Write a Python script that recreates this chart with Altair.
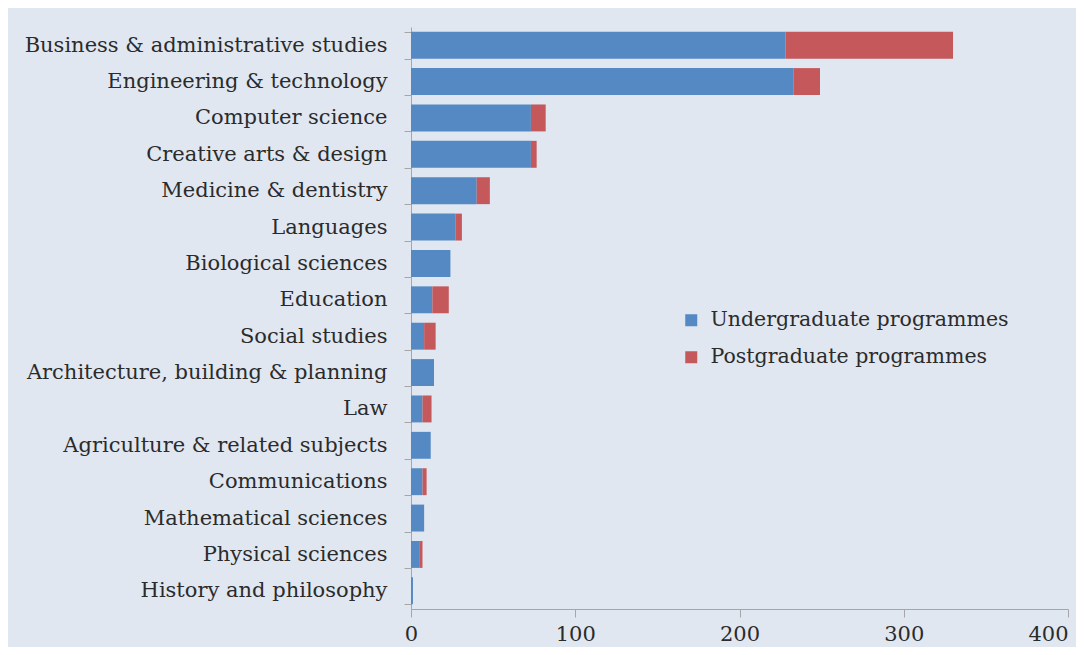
import altair as alt
import pandas as pd

categories = [
    "Business & administrative studies",
    "Engineering & technology",
    "Computer science",
    "Creative arts & design",
    "Medicine & dentistry",
    "Languages",
    "Biological sciences",
    "Education",
    "Social studies",
    "Architecture, building & planning",
    "Law",
    "Agriculture & related subjects",
    "Communications",
    "Mathematical sciences",
    "Physical sciences",
    "History and philosophy",
]
undergraduate = [228, 233, 73, 73, 40, 27, 24, 13, 8, 14, 7, 12, 7, 8, 5, 1.2]
postgraduate = [102, 16, 9, 3.5, 8, 4, 0, 10, 7, 0, 5.5, 0, 2.5, 0, 2, 0]
series = ["Undergraduate programmes", "Postgraduate programmes"]
colors = ["#5489C4", "#C4585A"]
x_ticks = [0, 100, 200, 300, 400]

rows = []
for c, u, p in zip(categories, undergraduate, postgraduate):
    rows.append({"category": c, "series": series[0], "value": u, "order": 0})
    rows.append({"category": c, "series": series[1], "value": p, "order": 1})
df = pd.DataFrame(rows)

FONT = "DejaVu Serif"
TXT = "#2B2B2B"
AX = "#A6A6A6"
bg = "#E0E7F1"

chart = (
    alt.Chart(df)
    .mark_bar()
    .encode(
        y=alt.Y(
            "category:N",
            sort=categories,
            title=None,
            scale=alt.Scale(paddingInner=0.26, paddingOuter=0.13),
            axis=alt.Axis(
                tickBand="extent",
                tickSize=7,
                tickColor=AX,
                domainColor=AX,
                labelFont=FONT,
                labelFontSize=21,
                labelColor=TXT,
                labelPadding=17,
                labelLimit=500,
            ),
        ),
        x=alt.X(
            "value:Q",
            stack="zero",
            title=None,
            scale=alt.Scale(domain=[0, 400], nice=False),
            axis=alt.Axis(
                values=x_ticks,
                grid=False,
                tickSize=8,
                tickColor=AX,
                domainColor=AX,
                labelFont=FONT,
                labelFontSize=21,
                labelColor=TXT,
                labelPadding=6,
                labelFlush=False,
                labelAlign={
                    "condition": {"test": "datum.value >= 400", "value": "right"},
                    "value": "center",
                },
            ),
        ),
        color=alt.Color(
            "series:N",
            sort=series,
            scale=alt.Scale(domain=series, range=colors),
            legend=alt.Legend(
                title=None,
                orient="none",
                legendX=270,
                legendY=283,
                symbolType="square",
                symbolSize=144,
                symbolStrokeWidth=0,
                labelFont=FONT,
                labelFontSize=20.5,
                labelColor=TXT,
                rowPadding=16,
                labelOffset=9,
                labelLimit=400,
            ),
        ),
        order=alt.Order("order:Q", sort="ascending"),
    )
    .properties(
        width=657,
        height=582,
        autosize=alt.AutoSizeParams(type="none"),
        padding={"left": 403, "top": 19, "right": 8, "bottom": 38},
        background=bg,
    )
    .configure_view(stroke=None, fill=bg)
)

chart.save("out.html", embed_options={"renderer": "svg", "actions": False})
